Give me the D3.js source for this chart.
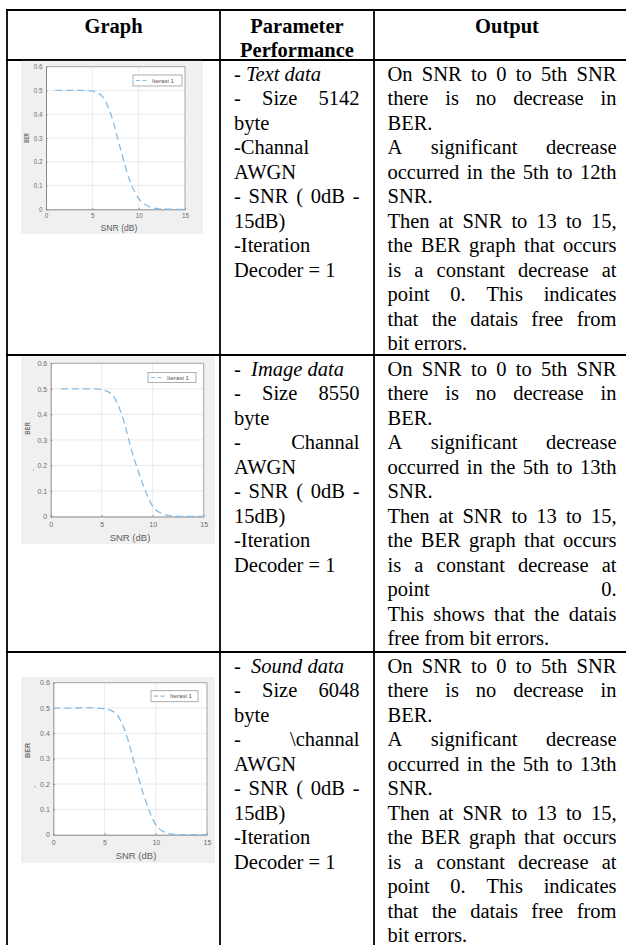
<!DOCTYPE html>
<meta charset="utf-8">
<style>
  body { margin: 0; background: #fff; }
  .serif { font-family: "Liberation Serif", "Times New Roman", serif; }
  .mat text { font-family: "Liberation Sans", Arial, sans-serif; }
</style>
<body>
<script src="https://d3js.org/d3.v7.min.js"></script>
<script>

// ---- data ----
const snr      = [1, 2, 3, 4, 5, 6, 7, 8, 9, 10, 11, 12, 13, 14, 15];
const snrSound = [0, 1, 2, 3, 4, 5, 6, 7, 8, 9, 10, 11, 12, 13, 14, 15];
const berText  = [0.5, 0.5, 0.5, 0.5, 0.497, 0.478, 0.40, 0.26, 0.125, 0.045, 0.014, 0.003, 0.001, 0, 0];
const berImage = [0.5, 0.5, 0.5, 0.5, 0.497, 0.478, 0.395, 0.25, 0.13, 0.04, 0.01, 0.002, 0, 0, 0];
const berSound = [0.5, 0.5, 0.5, 0.502, 0.5, 0.497, 0.482, 0.41, 0.27, 0.135, 0.04, 0.008, 0.001, 0, 0, 0];

const xTicks = [0, 5, 10, 15];
const yTicks = [0, 0.1, 0.2, 0.3, 0.4, 0.5, 0.6];
const legendLabel = "Iterasi 1";
const xLabel = "SNR (dB)";
const yLabel = "BER";

const headers = [["Graph"], ["Parameter", "Performance"], ["Output"]];

// [line, justified]; tokens wrapped in _ are italic, \u00a0 keeps words together,
// a double space gives a wider gap
const paramRows = [
  [["- _Text\u00a0data_", false], ["- Size 5142", true], ["byte", false], ["-Channal", false],
   ["AWGN", false], ["- SNR ( 0dB -", true], ["15dB)", false], ["-Iteration", false], ["Decoder = 1", false]],
  [["-  _Image\u00a0data_", false], ["- Size 8550", true], ["byte", false], ["- Channal", true],
   ["AWGN", false], ["- SNR ( 0dB -", true], ["15dB)", false], ["-Iteration", false], ["Decoder = 1", false]],
  [["-  _Sound\u00a0data_", false], ["- Size 6048", true], ["byte", false], ["- \\channal", true],
   ["AWGN", false], ["- SNR ( 0dB -", true], ["15dB)", false], ["-Iteration", false], ["Decoder = 1", false]]
];

const outputRows = [
  [["On SNR to 0 to 5th SNR", true], ["there is no decrease in", true], ["BER.", false],
   ["A significant decrease", true], ["occurred in the 5th to 12th", true], ["SNR.", false],
   ["Then at SNR to 13 to 15,", true], ["the BER graph that occurs", true], ["is a constant decrease at", true],
   ["point 0. This indicates", true], ["that the datais free from", true], ["bit errors.", false]],
  [["On SNR to 0 to 5th SNR", true], ["there is no decrease in", true], ["BER.", false],
   ["A significant decrease", true], ["occurred in the 5th to 13th", true], ["SNR.", false],
   ["Then at SNR to 13 to 15,", true], ["the BER graph that occurs", true], ["is a constant decrease at", true],
   ["point 0.", true], ["This shows that the datais", true], ["free from bit errors.", false]],
  [["On SNR to 0 to 5th SNR", true], ["there is no decrease in", true], ["BER.", false],
   ["A significant decrease", true], ["occurred in the 5th to 13th", true], ["SNR.", false],
   ["Then at SNR to 13 to 15,", true], ["the BER graph that occurs", true], ["is a constant decrease at", true],
   ["point 0. This indicates", true], ["that the datais free from", true], ["bit errors.", false]]
];

// ---- layout ----
const W = 626, H = 945;
const colX = [7, 220, 374, 640];
const rowY = [10, 60, 355, 652, 947];
const fontSize = 20.5, lineH = 24.5;
const paramBox = [234, 359.5];
const outBox = [387.5, 616.5];

const svg = d3.select("body").append("svg")
  .attr("width", W).attr("height", H)
  .style("display", "block");

svg.append("rect").attr("width", W).attr("height", H).attr("fill", "#fff");

// table grid
const grid = svg.append("g").attr("stroke", "#000").attr("stroke-width", 1.8);
rowY.forEach(y => grid.append("line").attr("x1", colX[0] - 0.9).attr("x2", colX[3]).attr("y1", y).attr("y2", y));
colX.forEach(x => grid.append("line").attr("x1", x).attr("x2", x).attr("y1", rowY[0]).attr("y2", rowY[4]));

// header
const head = svg.append("g").attr("class", "serif")
  .attr("font-size", fontSize).attr("font-weight", "bold");
headers.forEach((lines, c) => {
  lines.forEach((t, i) => {
    head.append("text")
      .attr("x", (colX[c] + colX[c + 1]) / 2)
      .attr("y", 33 + i * 24)
      .attr("text-anchor", "middle")
      .text(t);
  });
});

// one line of cell text, word by word so it can be justified
function drawLine(g, str, x0, x1, y, justify) {
  let parts = str.split(" ");
  if (justify) parts = parts.filter(w => w.length);
  const words = parts.map(w => {
    const italic = w.length > 1 && w.startsWith("_") && w.endsWith("_");
    return { w: italic ? w.slice(1, -1) : w, italic };
  });
  const nodes = words.map(d => g.append("text")
    .attr("y", y)
    .attr("font-style", d.italic ? "italic" : "normal")
    .text(d.w));
  const widths = nodes.map(n => n.node().getComputedTextLength());
  const total = d3.sum(widths);
  let gap = fontSize * 0.25;
  if (justify && words.length > 1) gap = (x1 - x0 - total) / (words.length - 1);
  let x = x0;
  nodes.forEach((n, i) => { n.attr("x", x); x += widths[i] + gap; });
}

const body = svg.append("g").attr("class", "serif").attr("font-size", fontSize).attr("fill", "#000");
[paramRows, outputRows].forEach((rows, k) => {
  const box = k === 0 ? paramBox : outBox;
  rows.forEach((lines, r) => {
    lines.forEach(([t, j], i) => {
      drawLine(body, t, box[0], box[1], rowY[r + 1] + 13.5 + i * lineH + 7, j);
    });
  });
});

// ---- the three MATLAB style plots ----
const charts = [
  { xs: snr, ys: berText,
    img: [21, 60.9, 203, 234], plot: [46, 66.7, 185, 209.3], legend: [133, 75, 49, 11],
    tick: 6.3, label: 8.6, ber: [26.7, 138, 9.5], xl: [119, 231], pad: 4.5, dot: null },
  { xs: snr, ys: berImage,
    img: [21, 356, 215, 544], plot: [50.7, 363.3, 203.7, 516.5], legend: [148, 372.5, 48, 10],
    tick: 7, label: 9.5, ber: [27, 428.5, 12.5], xl: [130, 540.5], pad: 5.3, dot: [33.3, 470] },
  { xs: snrSound, ys: berSound,
    img: [21, 677, 215, 863], plot: [53.3, 682.7, 207, 834.7], legend: [151, 690.7, 47, 11],
    tick: 7, label: 9.5, ber: [27, 750.5, 15], xl: [136, 858.5], pad: 5.3, dot: [35, 786.7] }
];

charts.forEach(c => {
  const g = svg.append("g").attr("class", "mat");
  const [l, t, r, b] = c.plot;

  g.append("rect")
    .attr("x", c.img[0]).attr("y", c.img[1])
    .attr("width", c.img[2] - c.img[0]).attr("height", c.img[3] - c.img[1])
    .attr("fill", "#f0f0f0");

  const x = d3.scaleLinear().domain([0, 15]).range([l, r]);
  const y = d3.scaleLinear().domain([0, 0.6]).range([b, t]);

  g.append("rect").attr("x", l).attr("y", t).attr("width", r - l).attr("height", b - t).attr("fill", "#fff");

  // grid
  g.append("g").selectAll("line").data(xTicks.slice(1, -1)).join("line")
    .attr("x1", d => x(d)).attr("x2", d => x(d)).attr("y1", t).attr("y2", b)
    .attr("stroke", "#e4e4e4").attr("stroke-width", 0.8);
  g.append("g").selectAll("line").data(yTicks.slice(1, -1)).join("line")
    .attr("x1", l).attr("x2", r).attr("y1", d => y(d)).attr("y2", d => y(d))
    .attr("stroke", "#e4e4e4").attr("stroke-width", 0.8);

  // box (top/right)
  g.append("path")
    .attr("d", `M${l},${t}H${r}V${b}`)
    .attr("fill", "none").attr("stroke", "#9a9a9a").attr("stroke-width", 0.9);

  const xAxis = g.append("g")
    .attr("transform", `translate(0,${b})`)
    .call(d3.axisBottom(x).tickValues(xTicks).tickSize(-1.5).tickSizeOuter(0).tickPadding(c.pad));
  const yAxis = g.append("g")
    .attr("transform", `translate(${l},0)`)
    .call(d3.axisLeft(y).tickValues(yTicks).tickSize(-1.5).tickSizeOuter(0).tickPadding(3.5)
      .tickFormat(d => d === 0 ? "0" : d3.format(".1f")(d)));
  [xAxis, yAxis].forEach(a => {
    a.attr("font-size", c.tick);
    a.selectAll("path, line").attr("stroke", "#7d7d7d").attr("stroke-width", 0.9);
    a.selectAll("text").attr("fill", "#6e6e6e");
  });

  if (c.dot) g.append("circle").attr("cx", c.dot[0]).attr("cy", c.dot[1]).attr("r", 0.6).attr("fill", "#888");

  g.append("text")
    .attr("x", c.xl[0]).attr("y", c.xl[1])
    .attr("text-anchor", "middle").attr("font-size", c.label).attr("fill", "#5e5e5e")
    .text(xLabel);

  g.append("text")
    .attr("transform", `translate(${c.ber[0] + 2.5},${c.ber[1]}) rotate(-90)`)
    .attr("text-anchor", "middle").attr("font-size", 7).attr("font-weight", "bold").attr("fill", "#707070")
    .attr("textLength", c.ber[2]).attr("lengthAdjust", "spacingAndGlyphs")
    .text(yLabel);

  const line = d3.line()
    .x((d, i) => x(c.xs[i]))
    .y(d => y(d))
    .curve(d3.curveMonotoneX);

  g.append("path")
    .datum(c.ys)
    .attr("d", line)
    .attr("fill", "none")
    .attr("stroke", "#86bde6")
    .attr("stroke-width", 1.3)
    .attr("stroke-dasharray", "7,4");

  // legend
  const [lx, ly, lw, lh] = c.legend;
  g.append("rect").attr("x", lx).attr("y", ly).attr("width", lw).attr("height", lh)
    .attr("fill", "#fff").attr("stroke", "#9a9a9a").attr("stroke-width", 0.8);
  g.append("line")
    .attr("x1", lx + 3).attr("x2", lx + 14).attr("y1", ly + lh / 2).attr("y2", ly + lh / 2)
    .attr("stroke", "#86bde6").attr("stroke-width", 1.2).attr("stroke-dasharray", "4,2.5");
  g.append("text")
    .attr("x", lx + 19).attr("y", ly + lh / 2 + 2.2)
    .attr("font-size", 6.2).attr("fill", "#555")
    .text(legendLabel);
});

</script>
</body>
